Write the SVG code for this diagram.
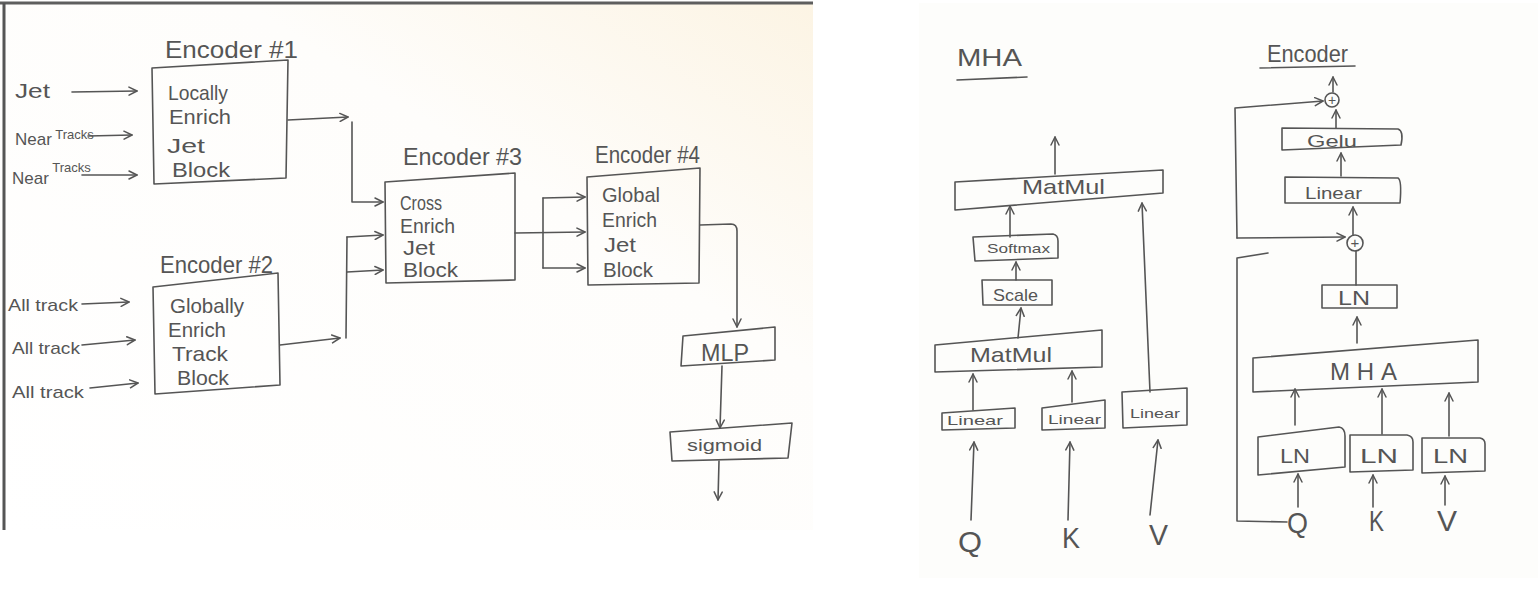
<svg xmlns="http://www.w3.org/2000/svg" width="1538" height="598" viewBox="0 0 1538 598">
<defs>
<linearGradient id="paper" x1="0" y1="1" x2="1" y2="0">
<stop offset="0" stop-color="#ffffff"/>
<stop offset="0.65" stop-color="#fefdfb"/>
<stop offset="1" stop-color="#fcf4e4"/>
</linearGradient>
<marker id="ah" viewBox="0 0 10 10" refX="9" refY="5" markerWidth="10" markerHeight="10" markerUnits="userSpaceOnUse" orient="auto">
<path d="M1,1 L9,5 L1,9" fill="none" stroke="#555" stroke-width="1.5" stroke-linecap="round" stroke-linejoin="round"/>
</marker>
</defs>
<style>
.ln{fill:none;stroke:#555;stroke-width:1.6;stroke-linecap:round;stroke-linejoin:round}
.ar{fill:none;stroke:#555;stroke-width:1.6;stroke-linecap:round;stroke-linejoin:round;marker-end:url(#ah)}
.bx{fill:none;stroke:#555;stroke-width:1.6;stroke-linejoin:round}
.t{font-family:"Liberation Sans",Arial,sans-serif;fill:#555}
.h{font-size:24px}
.b{font-size:21px}
.s{font-size:17px}
.x{font-size:13px}
.q{font-size:29px}
</style>
<rect width="1538" height="598" fill="#ffffff"/>
<g id="panel-left">
<rect x="0" y="3" width="813" height="527" fill="url(#paper)"/>
<path d="M0,3 L813,3" stroke="#5e5e5e" stroke-width="3"/>
<path d="M4,3 L4,530" stroke="#555" stroke-width="3"/>
</g>
<g id="panel-right">
<rect x="919" y="3" width="619" height="575" fill="#fdfdfb"/>
</g>

<g id="connectors">
<path class="ar" d="M72,92 L137,91"/>
<path class="ar" d="M88,136 L132,135"/>
<path class="ar" d="M82,175 L137,175"/>
<path class="ar" d="M82,304 L129,302"/>
<path class="ar" d="M82,345 L135,340"/>
<path class="ar" d="M90,388 L138,383"/>
<path class="ar" d="M288,120 L348,117"/>
<path class="ar" d="M352,122 L352,202 L383,202"/>
<path class="ar" d="M280,345 L340,338"/>
<path class="ln" d="M346,338 L347,237"/>
<path class="ar" d="M347,237 L383,235"/>
<path class="ar" d="M347,272 L383,270"/>
<path class="ar" d="M515,233 L585,232"/>
<path class="ln" d="M543,198 L543,268"/>
<path class="ar" d="M543,198 L585,197"/>
<path class="ar" d="M543,268 L585,268"/>
<path class="ar" d="M700,225 L731,224 Q737,224 737,231 L737,327"/>
<path class="ar" d="M722,366 L720,428"/>
<path class="ar" d="M719,461 L718,500"/>

<path class="ar" d="M1055,174 L1055,137"/>
<path class="ar" d="M1150,392 L1142,203"/>
<path class="ar" d="M1010,237 L1010,206"/>
<path class="ar" d="M1016,280 L1016,262"/>
<path class="ar" d="M1018,338 L1021,308"/>
<path class="ar" d="M973,410 L973,374"/>
<path class="ar" d="M1072,402 L1072,371"/>
<path class="ar" d="M971,520 L974,442"/>
<path class="ar" d="M1068,520 L1070,442"/>
<path class="ar" d="M1150,515 L1158,440"/>

<path class="ar" d="M1333,92 L1333,77"/>
<path class="ar" d="M1336,128 L1336,110"/>
<path class="ar" d="M1237,238 L1235,108 L1323,101"/>
<path class="ar" d="M1341,176 L1341,153"/>
<path class="ar" d="M1353,235 L1353,207"/>
<path class="ar" d="M1237,238 L1345,237"/>
<path class="ln" d="M1356,285 L1356,251"/>
<path class="ln" d="M1287,522 L1237,521 L1237,258 L1268,253"/>
<path class="ar" d="M1357,343 L1357,317"/>
<path class="ar" d="M1295,425 L1295,389"/>
<path class="ar" d="M1382,434 L1382,389"/>
<path class="ar" d="M1449,436 L1449,393"/>
<path class="ar" d="M1298,507 L1298,474"/>
<path class="ar" d="M1373,507 L1373,475"/>
<path class="ar" d="M1445,505 L1445,476"/>
</g>

<g id="inputs-left">
<text class="t b" x="15" y="98" textLength="35" lengthAdjust="spacingAndGlyphs">Jet</text>
<text class="t" x="15" y="145" font-size="17"><tspan>Near</tspan><tspan font-size="13" dy="-6"> Tracks</tspan></text>
<text class="t" x="12" y="184" font-size="17"><tspan>Near</tspan><tspan font-size="13" dy="-12"> Tracks</tspan></text>
<text class="t s" x="8" y="311" textLength="70" lengthAdjust="spacingAndGlyphs">All track</text>
<text class="t s" x="12" y="354" textLength="68" lengthAdjust="spacingAndGlyphs">All track</text>
<text class="t s" x="12" y="398" textLength="72" lengthAdjust="spacingAndGlyphs">All track</text>
</g>

<g id="encoder1">
<text class="t h" x="165" y="58" textLength="133" lengthAdjust="spacingAndGlyphs">Encoder #1</text>
<path class="bx" d="M152,68 L288,60 L286,178 L154,184 Z"/>
<text class="t b" x="168" y="100" textLength="60" lengthAdjust="spacingAndGlyphs">Locally</text>
<text class="t b" x="169" y="124" textLength="62" lengthAdjust="spacingAndGlyphs">Enrich</text>
<text class="t b" x="167" y="153" textLength="38" lengthAdjust="spacingAndGlyphs">Jet</text>
<text class="t b" x="172" y="177" textLength="58" lengthAdjust="spacingAndGlyphs">Block</text>
</g>

<g id="encoder2">
<text class="t h" x="160" y="273" textLength="113" lengthAdjust="spacingAndGlyphs">Encoder #2</text>
<path class="bx" d="M153,287 L278,273 L280,385 L155,394 Z"/>
<text class="t b" x="170" y="313" textLength="74" lengthAdjust="spacingAndGlyphs">Globally</text>
<text class="t b" x="168" y="337" textLength="58" lengthAdjust="spacingAndGlyphs">Enrich</text>
<text class="t b" x="172" y="361" textLength="56" lengthAdjust="spacingAndGlyphs">Track</text>
<text class="t b" x="177" y="385" textLength="52" lengthAdjust="spacingAndGlyphs">Block</text>
</g>

<g id="encoder3">
<text class="t h" x="403" y="165" textLength="119" lengthAdjust="spacingAndGlyphs">Encoder #3</text>
<path class="bx" d="M385,182 L515,173 L515,280 L386,283 Z"/>
<text class="t b" x="400" y="210" textLength="42" lengthAdjust="spacingAndGlyphs">Cross</text>
<text class="t b" x="400" y="233" textLength="55" lengthAdjust="spacingAndGlyphs">Enrich</text>
<text class="t b" x="403" y="255" textLength="32" lengthAdjust="spacingAndGlyphs">Jet</text>
<text class="t b" x="403" y="277" textLength="55" lengthAdjust="spacingAndGlyphs">Block</text>
</g>

<g id="encoder4">
<text class="t h" x="595" y="163" textLength="105" lengthAdjust="spacingAndGlyphs">Encoder #4</text>
<path class="bx" d="M587,177 L700,168 L699,283 L588,285 Z"/>
<text class="t b" x="602" y="202" textLength="58" lengthAdjust="spacingAndGlyphs">Global</text>
<text class="t b" x="602" y="227" textLength="55" lengthAdjust="spacingAndGlyphs">Enrich</text>
<text class="t b" x="604" y="252" textLength="32" lengthAdjust="spacingAndGlyphs">Jet</text>
<text class="t b" x="603" y="277" textLength="50" lengthAdjust="spacingAndGlyphs">Block</text>
</g>

<g id="mlp">
<path class="bx" d="M683,336 L775,327 L775,360 L681,366 Z"/>
<text class="t h" x="701" y="361" textLength="48" lengthAdjust="spacingAndGlyphs">MLP</text>
</g>

<g id="sigmoid">
<path class="bx" d="M670,432 L792,423 L788,458 L672,461 Z"/>
<text class="t s" x="687" y="451" textLength="75" lengthAdjust="spacingAndGlyphs">sigmoid</text>
</g>

<g id="mha-title">
<text class="t h" x="957" y="66" textLength="65" lengthAdjust="spacingAndGlyphs">MHA</text>
<path class="ln" d="M957,80 L1027,77"/>
</g>

<g id="mha-matmul-top">
<path class="bx" d="M955,182 L1163,170 L1163,193 L955,210 Z"/>
<text class="t b" x="1022" y="194" textLength="83" lengthAdjust="spacingAndGlyphs">MatMul</text>
</g>

<g id="mha-softmax">
<path class="bx" d="M973,237 L1053,234 Q1058,235 1058,241 L1058,258 L975,261 Z"/>
<text class="t x" x="987" y="253" textLength="63" lengthAdjust="spacingAndGlyphs">Softmax</text>
</g>

<g id="mha-scale">
<path class="bx" d="M982,280 L1052,280 L1052,305 L983,305 Z"/>
<text class="t s" x="993" y="301" textLength="45" lengthAdjust="spacingAndGlyphs">Scale</text>
</g>

<g id="mha-matmul-bottom">
<path class="bx" d="M935,345 L1102,330 L1102,367 L935,372 Z"/>
<text class="t b" x="970" y="362" textLength="82" lengthAdjust="spacingAndGlyphs">MatMul</text>
</g>

<g id="mha-linear-q">
<path class="bx" d="M942,413 L1015,408 L1015,428 L942,430 Z"/>
<text class="t x" x="947" y="425" textLength="56" lengthAdjust="spacingAndGlyphs">Linear</text>
</g>

<g id="mha-linear-k">
<path class="bx" d="M1042,408 L1105,400 L1105,428 L1042,430 Z"/>
<text class="t x" x="1048" y="424" textLength="53" lengthAdjust="spacingAndGlyphs">Linear</text>
</g>

<g id="mha-linear-v">
<path class="bx" d="M1122,392 L1187,388 L1187,425 L1123,428 Z"/>
<text class="t x" x="1130" y="418" textLength="50" lengthAdjust="spacingAndGlyphs">Linear</text>
</g>

<g id="mha-inputs">
<text class="t q" x="958" y="552" textLength="24" lengthAdjust="spacingAndGlyphs">Q</text>
<text class="t q" x="1062" y="548" textLength="18" lengthAdjust="spacingAndGlyphs">K</text>
<text class="t q" x="1149" y="545" textLength="19" lengthAdjust="spacingAndGlyphs">V</text>
</g>

<g id="enc-title">
<text class="t h" x="1267" y="62" textLength="81" lengthAdjust="spacingAndGlyphs">Encoder</text>
<path class="ln" d="M1260,68 L1355,66"/>
</g>

<g id="enc-add-top">
<circle class="bx" cx="1332" cy="100" r="7"/>
<text class="t" x="1332" y="105" font-size="14" text-anchor="middle">+</text>
</g>

<g id="enc-gelu">
<path class="bx" d="M1282,128 L1398,129 Q1404,131 1401,145 L1282,150 Z"/>
<text class="t s" x="1307" y="147" textLength="50" lengthAdjust="spacingAndGlyphs">Gelu</text>
</g>

<g id="enc-linear">
<path class="bx" d="M1285,177 L1398,178 Q1402,180 1400,203 L1285,203 Z"/>
<text class="t s" x="1305" y="199" textLength="57" lengthAdjust="spacingAndGlyphs">Linear</text>
</g>

<g id="enc-add-bottom">
<circle class="bx" cx="1355" cy="243" r="8"/>
<text class="t" x="1355" y="248" font-size="15" text-anchor="middle">+</text>
</g>

<g id="enc-ln-top">
<path class="bx" d="M1322,285 L1397,285 L1397,308 L1322,308 Z"/>
<text class="t b" x="1338" y="305" textLength="32" lengthAdjust="spacingAndGlyphs">LN</text>
</g>

<g id="enc-mha">
<path class="bx" d="M1253,358 L1478,340 L1478,382 L1253,392 Z"/>
<text class="t h" x="1330" y="380" textLength="67" lengthAdjust="spacing">MHA</text>
</g>

<g id="enc-ln-q">
<path class="bx" d="M1258,437 L1339,427 Q1345,428 1345,436 L1345,467 L1258,475 Z"/>
<text class="t b" x="1280" y="463" textLength="30" lengthAdjust="spacingAndGlyphs">LN</text>
</g>

<g id="enc-ln-k">
<path class="bx" d="M1350,435 L1407,435 Q1413,436 1413,442 L1413,470 L1350,472 Z"/>
<text class="t b" x="1360" y="463" textLength="38" lengthAdjust="spacingAndGlyphs">LN</text>
</g>

<g id="enc-ln-v">
<path class="bx" d="M1422,438 L1480,438 Q1485,439 1485,444 L1485,471 L1422,473 Z"/>
<text class="t b" x="1433" y="463" textLength="35" lengthAdjust="spacingAndGlyphs">LN</text>
</g>

<g id="enc-inputs">
<text class="t q" x="1287" y="533" textLength="21" lengthAdjust="spacingAndGlyphs">Q</text>
<text class="t q" x="1369" y="531" textLength="15" lengthAdjust="spacingAndGlyphs">K</text>
<text class="t q" x="1437" y="531" textLength="20" lengthAdjust="spacingAndGlyphs">V</text>
</g>
</svg>
